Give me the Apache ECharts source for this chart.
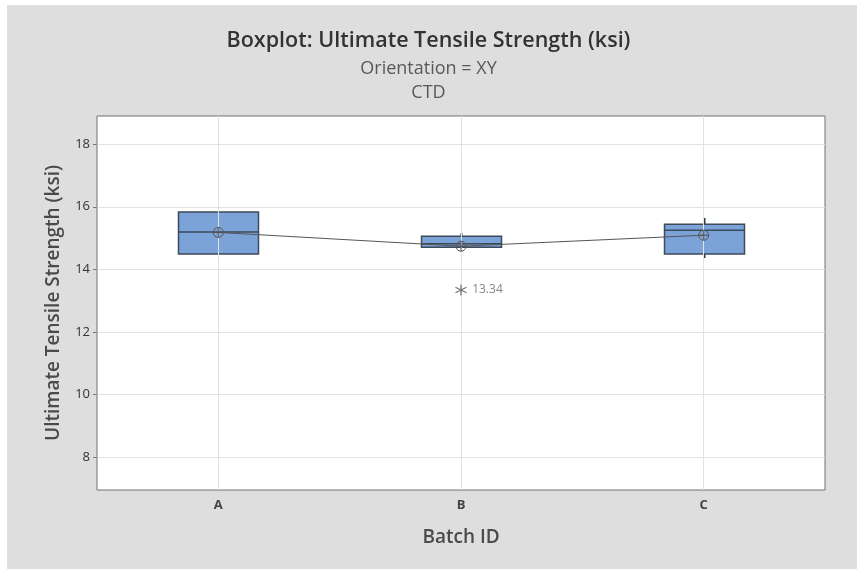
<!DOCTYPE html>
<html>
<head>
<meta charset="utf-8">
<script src="https://cdn.jsdelivr.net/npm/echarts@6/dist/echarts.min.js"></script>
<style>
  html, body { margin: 0; padding: 0; background: #fff; }
  #chart { width: 857px; height: 569px; }
</style>
</head>
<body>
<div id="chart"></div>
<script>
// Batch categories and five-number summaries [min, Q1, median, Q3, max]
const batches = ['A', 'B', 'C'];
const boxA = [14.49, 14.49, 15.19, 15.83, 15.83];
const boxB = [14.71, 14.71, 14.82, 15.06, 15.16];
const boxC = [14.36, 14.49, 15.25, 15.44, 15.64];
// Batch means, joined by the connect line
const means = [15.18, 14.74, 15.09];
// Outliers: [batch, value]
const outliers = [['B', 13.34]];
// Y axis tick values
const yTicks = [8, 10, 12, 14, 16, 18];

const font = '"Open Sans", "Noto Sans", sans-serif';
const meanSymbol = 'path://M10,0A10,10,0,1,1,10,20A10,10,0,1,1,10,0ZM10,0L10,20M0,10L20,10';
const starSymbol = 'path://M5,0L5,10M0.7,2.5L9.3,7.5M0.7,7.5L9.3,2.5';
const boxColor = '#7ba3d8';
const edgeColor = '#3d4a5a';

// rows for the custom box series: [categoryIndex, min, Q1, median, Q3, max]
const boxRows = [boxA, boxB, boxC].map((b, i) => [i].concat(b));

// Box with plain whisker lines (no end caps)
function renderBox(params, api) {
  const i = api.value(0);
  const lo = api.coord([i, api.value(1)]);
  const q1 = api.coord([i, api.value(2)]);
  const md = api.coord([i, api.value(3)]);
  const q3 = api.coord([i, api.value(4)]);
  const hi = api.coord([i, api.value(5)]);
  const half = 40;
  const cx = Math.round(q1[0]) + 0.5;
  const whisker = { stroke: '#2f3a47', lineWidth: 2, fill: null };
  const line = { stroke: edgeColor, lineWidth: 1.5, fill: null };
  return {
    type: 'group',
    children: [
      { type: 'line', shape: { x1: cx, y1: q3[1], x2: cx, y2: hi[1] }, style: whisker },
      { type: 'line', shape: { x1: cx, y1: q1[1], x2: cx, y2: lo[1] }, style: whisker },
      { type: 'rect', shape: { x: cx - half, y: q3[1], width: half * 2, height: q1[1] - q3[1] },
        style: { fill: boxColor, stroke: edgeColor, lineWidth: 1.5 } },
      { type: 'line', shape: { x1: cx - half, y1: md[1], x2: cx + half, y2: md[1] }, style: line }
    ]
  };
}

const chart = echarts.init(document.getElementById('chart'), null, { renderer: 'canvas' });

chart.setOption({
  backgroundColor: '#ffffff',
  animation: false,
  graphic: [{
    type: 'rect', z: -10, silent: true,
    shape: { x: 7, y: 5, width: 850, height: 564 },
    style: { fill: '#dedede' }
  }],
  title: [
    { text: 'Boxplot: Ultimate Tensile Strength (ksi)', left: 'center', top: 25,
      textStyle: { fontFamily: font, fontSize: 21.5, fontWeight: 600, color: '#333' } },
    { text: 'Orientation = XY', left: 'center', top: 55,
      textStyle: { fontFamily: font, fontSize: 18, fontWeight: 'normal', color: '#595959' } },
    { text: 'CTD', left: 'center', top: 79,
      textStyle: { fontFamily: font, fontSize: 18, fontWeight: 'normal', color: '#595959' } }
  ],
  grid: {
    left: 97, right: 32, top: 116, bottom: 79,
    show: true, backgroundColor: '#ffffff', borderColor: '#707070', borderWidth: 1
  },
  xAxis: {
    type: 'category',
    data: batches,
    boundaryGap: true,
    name: 'Batch ID',
    nameLocation: 'middle',
    nameGap: 38,
    nameTextStyle: { fontFamily: font, fontSize: 19, fontWeight: 600, color: '#4a4a4a' },
    axisLine: { show: false },
    axisTick: { alignWithLabel: true, length: 4, lineStyle: { color: '#777' } },
    axisLabel: { fontFamily: font, fontSize: 13, fontWeight: 'bold', color: '#444', margin: 9 },
    splitLine: { show: false }
  },
  yAxis: {
    type: 'value',
    min: 6.95,
    max: 18.9,
    name: 'Ultimate Tensile Strength (ksi)',
    nameLocation: 'middle',
    nameGap: 34,
    nameTextStyle: { fontFamily: font, fontSize: 19, fontWeight: 600, color: '#4a4a4a' },
    axisLine: { show: false },
    axisTick: { show: true, length: 4, customValues: yTicks, lineStyle: { color: '#777' } },
    axisLabel: { fontFamily: font, fontSize: 13, color: '#333', margin: 7, customValues: yTicks },
    splitLine: { show: true, lineStyle: { color: '#e2e2e2', width: 1 } }
  },
  series: [
    {
      // vertical reference lines at each batch, behind the boxes
      type: 'line',
      data: [],
      z: 1,
      markLine: {
        silent: true, symbol: 'none', label: { show: false },
        lineStyle: { color: '#e2e2e2', width: 1, type: 'solid' },
        data: batches.map(b => ({ xAxis: b }))
      }
    },
    {
      type: 'custom',
      data: boxRows,
      renderItem: renderBox,
      encode: { x: 0, y: [1, 2, 3, 4, 5] },
      z: 3
    },
    {
      type: 'line',
      data: means,
      symbol: meanSymbol,
      symbolSize: 10,
      lineStyle: { color: '#555', width: 1 },
      itemStyle: { color: 'transparent', borderColor: '#555', borderWidth: 1 },
      z: 5
    },
    {
      type: 'scatter',
      data: outliers,
      symbol: starSymbol,
      symbolSize: 11,
      itemStyle: { color: 'transparent', borderColor: '#555', borderWidth: 1.3 },
      label: {
        show: true, position: 'right', distance: 5,
        formatter: p => p.value[1].toFixed(2),
        fontFamily: font, fontSize: 12, color: '#666'
      },
      z: 5
    }
  ]
});
</script>
</body>
</html>
